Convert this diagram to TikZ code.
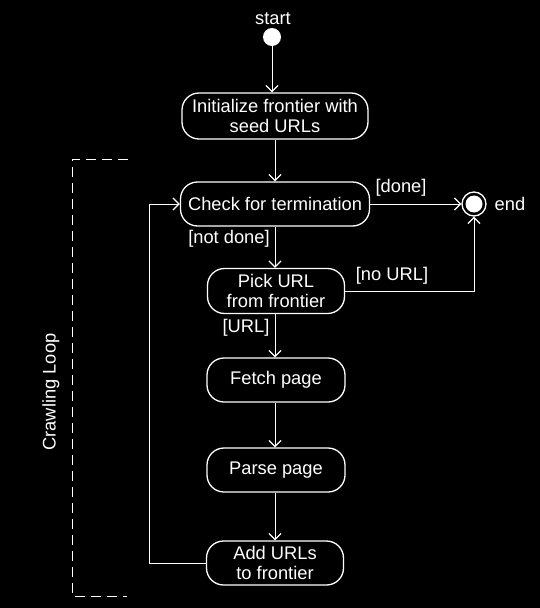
\documentclass[tikz,border=0pt]{standalone}
\usepackage{fontspec}
\setmainfont{Liberation Sans}
\usetikzlibrary{arrows.meta}
\begin{document}
\begin{tikzpicture}[x=1pt,y=-1pt,
  every node/.style={text=white,font=\fontsize{18.3}{19.5}\selectfont},
  act/.style={draw=white,line width=1.3pt,rounded corners=17pt,align=center,inner sep=0pt},
  flow/.style={draw=white,line width=1pt,-{Straight Barb[length=6pt,width=12pt,line width=1.3pt]}},
  lbl/.style={inner sep=1pt}]
\fill[black] (0,0) rectangle (540,608);
\useasboundingbox (0,0) rectangle (540,608);
% nodes
\node[circle,fill=white,minimum size=18pt,inner sep=0pt] (start) at (272,37) {};
\node[lbl] (startl) at (273,19) {start};
\node[act,minimum width=186pt,minimum height=46pt] (init) at (275,116) {Initialize frontier with\\seed URLs};
\node[act,minimum width=189pt,minimum height=44pt] (check) at (275,204) {Check for termination};
\node[act,minimum width=137pt,minimum height=45pt] (pick) at (276,291) {Pick URL\\from frontier};
\node[act,minimum width=138pt,minimum height=44pt] (fetch) at (276,380) {Fetch page};
\node[act,minimum width=138pt,minimum height=44pt] (parse) at (276,470) {Parse page};
\node[act,minimum width=137pt,minimum height=44pt] (add) at (275,563) {Add URLs\\to frontier};
\node[circle,draw=white,line width=1.3pt,minimum size=24pt,inner sep=0pt] (end) at (474,204) {};
\fill[white] (end.center) circle (8.5pt);
\node[lbl] (endl) at (510,204) {end};
% connectors
\draw[flow] (start) -- (init.north -| start);
\draw[flow] (init) -- (check);
\draw[flow] (check) -- (end);
\node[lbl] (dl) at (401,188) {[done]};
\draw[flow] (check.south -| 275,0) -- (pick.north -| 275,0);
\node[lbl] (nd) at (229,239) {[not done]};
\draw[flow] (pick.east) -- (pick.east -| end) -- (end);
\node[lbl] (nu) at (392,276) {[no URL]};
\draw[flow] (pick.south -| 275,0) -- (fetch.north -| 275,0);
\node[lbl] (url) at (246,328) {[URL]};
\draw[flow] (fetch.south -| 275,0) -- (parse.north -| 275,0);
\draw[flow] (parse.south -| 275,0) -- (add.north -| 275,0);
\coordinate (fb) at (149,563);
\draw[flow] (add.west |- fb) -- (fb) -- (fb |- check) -- (check.west);
% dashed bracket
\coordinate (bt) at (128,159);
\coordinate (bb) at (127,596);
\draw[white,line width=1pt,dash pattern=on 10pt off 6pt] (bt) -- (72,159) -- (72,596) -- (bb);
\node[lbl,rotate=90] (loop) at (51,392) {Crawling Loop};
\end{tikzpicture}
\end{document}
